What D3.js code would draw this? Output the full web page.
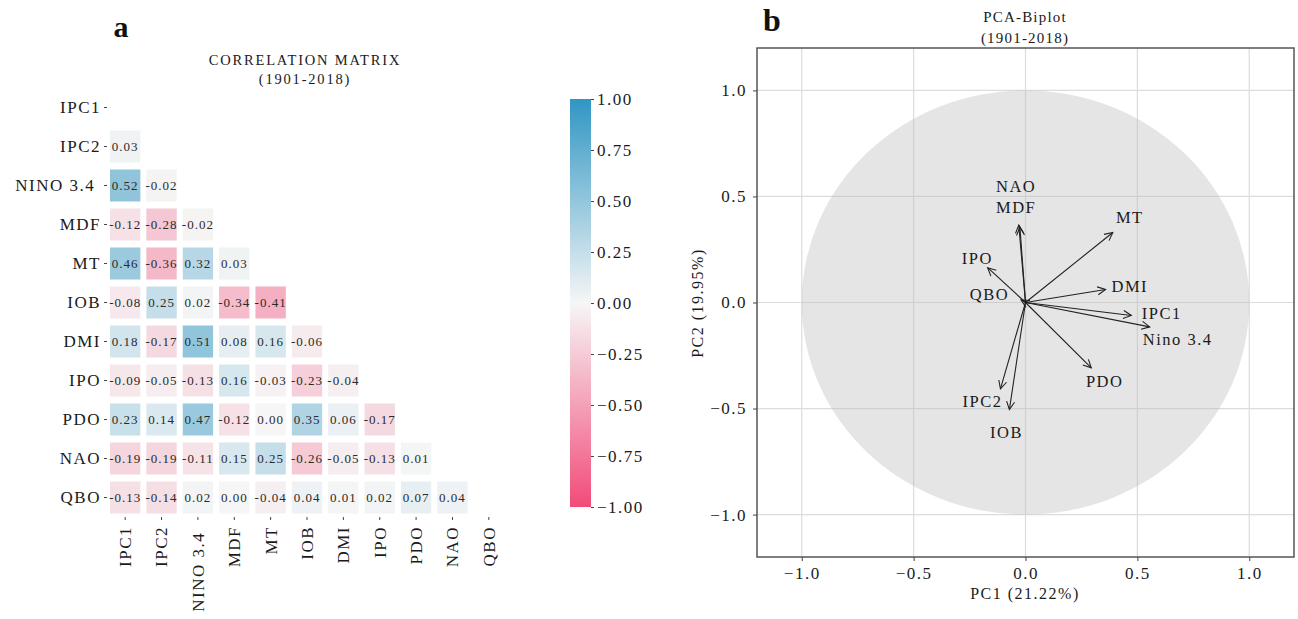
<!DOCTYPE html>
<html>
<head>
<meta charset="UTF-8">
<title>Correlation matrix and PCA biplot</title>
<style>
  body { margin: 0; background: #fff; }
  text { font-family: "Liberation Serif", "Times New Roman", serif; fill: #1a1a1a; }
</style>
</head>
<body>
<svg width="1298" height="619"></svg>
<script src="https://d3js.org/d3.v7.min.js"></script>
<script>
// ---- panel a: correlation matrix (lower triangle) ----
var names = ["IPC1", "IPC2", "NINO 3.4", "MDF", "MT", "IOB", "DMI", "IPO", "PDO", "NAO", "QBO"];
var corrRows = [
  [],
  [0.03],
  [0.52, -0.02],
  [-0.12, -0.28, -0.02],
  [0.46, -0.36, 0.32, 0.03],
  [-0.08, 0.25, 0.02, -0.34, -0.41],
  [0.18, -0.17, 0.51, 0.08, 0.16, -0.06],
  [-0.09, -0.05, -0.13, 0.16, -0.03, -0.23, -0.04],
  [0.23, 0.14, 0.47, -0.12, 0.00, 0.35, 0.06, -0.17],
  [-0.19, -0.19, -0.11, 0.15, 0.25, -0.26, -0.05, -0.13, 0.01],
  [-0.13, -0.14, 0.02, 0.00, -0.04, 0.04, 0.01, 0.02, 0.07, 0.04]
];
var cbarTicks = [1, 0.75, 0.5, 0.25, 0, -0.25, -0.5, -0.75, -1];

// ---- panel b: PCA biplot loadings ----
var pcaNames = ["IPC1", "IPC2", "Nino 3.4", "MDF", "MT", "IOB", "DMI", "IPO", "PDO", "NAO", "QBO"];
var pc1 = [0.473, -0.112, 0.555, -0.025, 0.39, -0.072, 0.358, -0.169, 0.294, -0.03, -0.02];
var pc2 = [-0.061, -0.407, -0.115, 0.355, 0.33, -0.505, 0.061, 0.164, -0.308, 0.365, 0.012];
// where the (adjusted) text labels sit, in data units
var labX = [0.609, -0.192, 0.68, -0.042, 0.466, -0.085, 0.466, -0.215, 0.354, -0.042, -0.161];
var labY = [-0.052, -0.466, -0.175, 0.448, 0.401, -0.613, 0.075, 0.208, -0.373, 0.549, 0.038];
var pcTicks = [-1, -0.5, 0, 0.5, 1];

var svg = d3.select("svg");

var fmtCell = function(d) { return d3.format(".2f")(d).replace("\u2212", "-"); };

var color = d3.scaleLinear()
  .domain([-1, 0, 1])
  .range(["#f24b78", "#f6f6f6", "#3096c3"]);

var xBand = d3.scaleBand().domain(names).range([107, 507]);
var yBand = d3.scaleBand().domain(names).range([88, 517]);

var cells = [];
corrRows.forEach(function(row, i) {
  row.forEach(function(v, j) { cells.push({r: names[i], c: names[j], v: v}); });
});

var ga = svg.append("g");

ga.selectAll("rect.cell")
  .data(cells)
  .enter().append("rect")
  .attr("class", "cell")
  .attr("x", function(d) { return xBand(d.c) + 3; })
  .attr("y", function(d) { return yBand(d.r) + 3.5; })
  .attr("width", xBand.bandwidth() - 6)
  .attr("height", yBand.bandwidth() - 7)
  .attr("fill", function(d) { return color(d.v); });

ga.selectAll("text.val")
  .data(cells)
  .enter().append("text")
  .attr("class", "val")
  .attr("x", function(d) { return xBand(d.c) + xBand.bandwidth() / 2; })
  .attr("y", function(d) { return yBand(d.r) + yBand.bandwidth() / 2; })
  .attr("text-anchor", "middle")
  .attr("dominant-baseline", "central")
  .style("font-size", "13px")
  .style("letter-spacing", "1px")
  .style("fill", "#2a2a2a")
  .text(function(d) { return fmtCell(d.v); });

// y axis labels
var yAx = ga.append("g")
  .attr("transform", "translate(107,0)")
  .call(d3.axisLeft(yBand).tickSize(3).tickPadding(3)
    .tickFormat(function(d) { return d == "NINO 3.4" ? d + "\u00a0" : d; }));
yAx.select(".domain").remove();
yAx.selectAll("line").attr("stroke", "#444");
yAx.selectAll("text").style("font-size", "17px").style("letter-spacing", "1.5px").style("fill", "#1a1a1a");

// x axis labels, rotated
var xAx = ga.append("g")
  .attr("transform", "translate(0,517)")
  .call(d3.axisBottom(xBand).tickSize(3).tickPadding(3)
    .tickFormat(function(d) { return d == "NINO 3.4" ? d + "\u00a0" : d; }));
xAx.select(".domain").remove();
xAx.selectAll("line").attr("stroke", "#444");
xAx.selectAll("text")
  .attr("transform", "rotate(-90)")
  .attr("text-anchor", "end")
  .attr("dy", "0.35em")
  .attr("x", -9)
  .attr("y", 0)
  .style("font-size", "17px").style("letter-spacing", "1.5px").style("fill", "#1a1a1a");

ga.append("text")
  .attr("x", 305).attr("y", 65)
  .attr("text-anchor", "middle")
  .style("font-size", "14.5px").style("letter-spacing", "1.8px")
  .text("CORRELATION MATRIX");
ga.append("text")
  .attr("x", 305).attr("y", 84)
  .attr("text-anchor", "middle")
  .style("font-size", "14.5px").style("letter-spacing", "1.8px")
  .text("(1901-2018)");

ga.append("text")
  .attr("x", 121).attr("y", 37)
  .attr("text-anchor", "middle")
  .style("font-size", "30px").style("font-weight", "bold").style("fill", "#111")
  .text("a");

// colorbar
var cy = d3.scaleLinear().domain([-1, 1]).range([507, 99]);
var grad = svg.append("defs").append("linearGradient")
  .attr("id", "cbar").attr("x1", 0).attr("y1", 1).attr("x2", 0).attr("y2", 0);
grad.selectAll("stop")
  .data([-1, 0, 1])
  .enter().append("stop")
  .attr("offset", function(d) { return (d + 1) / 2; })
  .attr("stop-color", function(d) { return color(d); });

ga.append("rect")
  .attr("x", 570).attr("y", cy(1))
  .attr("width", 21).attr("height", cy(-1) - cy(1))
  .attr("fill", "url(#cbar)");

var cAx = ga.append("g")
  .attr("transform", "translate(591,0)")
  .call(d3.axisRight(cy).tickValues(cbarTicks).tickSize(3).tickPadding(3).tickFormat(d3.format(".2f")));
cAx.select(".domain").remove();
cAx.selectAll("line").attr("stroke", "#444");
cAx.selectAll("text").style("font-size", "17px").style("letter-spacing", "1.5px").style("fill", "#1a1a1a");

// ---- panel b ----
var x = d3.scaleLinear().domain([-1.2, 1.2]).range([757, 1294]);
var y = d3.scaleLinear().domain([-1.2, 1.2]).range([557, 48]);
var gb = svg.append("g");

gb.selectAll("line.vg")
  .data(pcTicks)
  .enter().append("line")
  .attr("x1", function(d) { return x(d); }).attr("x2", function(d) { return x(d); })
  .attr("y1", y(1.2)).attr("y2", y(-1.2))
  .attr("stroke", "#dcdcdc").attr("stroke-width", 1.2);
gb.selectAll("line.hg")
  .data(pcTicks)
  .enter().append("line")
  .attr("y1", function(d) { return y(d); }).attr("y2", function(d) { return y(d); })
  .attr("x1", x(-1.2)).attr("x2", x(1.2))
  .attr("stroke", "#dcdcdc").attr("stroke-width", 1.2);

gb.append("ellipse")
  .attr("cx", x(0)).attr("cy", y(0))
  .attr("rx", x(1) - x(0)).attr("ry", y(0) - y(1))
  .attr("fill", "#bbbbbb").attr("fill-opacity", 0.38);

gb.append("defs").append("marker")
  .attr("id", "head")
  .attr("viewBox", "-10 -6 12 12")
  .attr("refX", 0).attr("refY", 0)
  .attr("markerWidth", 12).attr("markerHeight", 12)
  .attr("markerUnits", "userSpaceOnUse")
  .attr("orient", "auto")
  .append("path")
  .attr("d", "M-8,-4L0,0L-8,4")
  .attr("fill", "none").attr("stroke", "#222").attr("stroke-width", 1.1);

gb.selectAll("line.vec")
  .data(pcaNames)
  .enter().append("line")
  .attr("class", "vec")
  .attr("x1", x(0)).attr("y1", y(0))
  .attr("x2", function(d, i) { return x(pc1[i]); })
  .attr("y2", function(d, i) { return y(pc2[i]); })
  .attr("stroke", "#222").attr("stroke-width", 1.1)
  .attr("marker-end", "url(#head)");

gb.selectAll("text.lab")
  .data(pcaNames)
  .enter().append("text")
  .attr("class", "lab")
  .attr("x", function(d, i) { return x(labX[i]); })
  .attr("y", function(d, i) { return y(labY[i]); })
  .attr("text-anchor", "middle")
  .attr("dominant-baseline", "central")
  .style("font-size", "16.5px").style("letter-spacing", "1.5px")
  .text(function(d) { return d; });

gb.append("rect")
  .attr("x", 757).attr("y", 48)
  .attr("width", 1294 - 757).attr("height", 557 - 48)
  .attr("fill", "none").attr("stroke", "#555").attr("stroke-width", 1.5);

var bx = gb.append("g")
  .attr("transform", "translate(0,557)")
  .call(d3.axisBottom(x).tickValues(pcTicks).tickSize(4).tickPadding(6).tickFormat(d3.format(".1f")));
bx.select(".domain").remove();
bx.selectAll("line").attr("stroke", "#444");
bx.selectAll("text").style("font-size", "17px").style("letter-spacing", "1.5px").style("fill", "#1a1a1a");

var by = gb.append("g")
  .attr("transform", "translate(757,0)")
  .call(d3.axisLeft(y).tickValues(pcTicks).tickSize(4).tickPadding(6).tickFormat(d3.format(".1f")));
by.select(".domain").remove();
by.selectAll("line").attr("stroke", "#444");
by.selectAll("text").style("font-size", "17px").style("letter-spacing", "1.5px").style("fill", "#1a1a1a");

gb.append("text")
  .attr("x", 1025).attr("y", 22)
  .attr("text-anchor", "middle")
  .style("font-size", "15px").style("letter-spacing", "1.2px")
  .text("PCA-Biplot");
gb.append("text")
  .attr("x", 1025).attr("y", 43)
  .attr("text-anchor", "middle")
  .style("font-size", "15px").style("letter-spacing", "1.2px")
  .text("(1901-2018)");

gb.append("text")
  .attr("x", 1025).attr("y", 599)
  .attr("text-anchor", "middle")
  .style("font-size", "16px").style("letter-spacing", "1.5px")
  .text("PC1 (21.22%)");
gb.append("text")
  .attr("transform", "translate(703,303) rotate(-90)")
  .attr("text-anchor", "middle")
  .style("font-size", "16px").style("letter-spacing", "1.5px")
  .text("PC2 (19.95%)");

gb.append("text")
  .attr("x", 772).attr("y", 31)
  .attr("text-anchor", "middle")
  .style("font-size", "32px").style("font-weight", "bold").style("fill", "#111")
  .text("b");
</script>
</body>
</html>
